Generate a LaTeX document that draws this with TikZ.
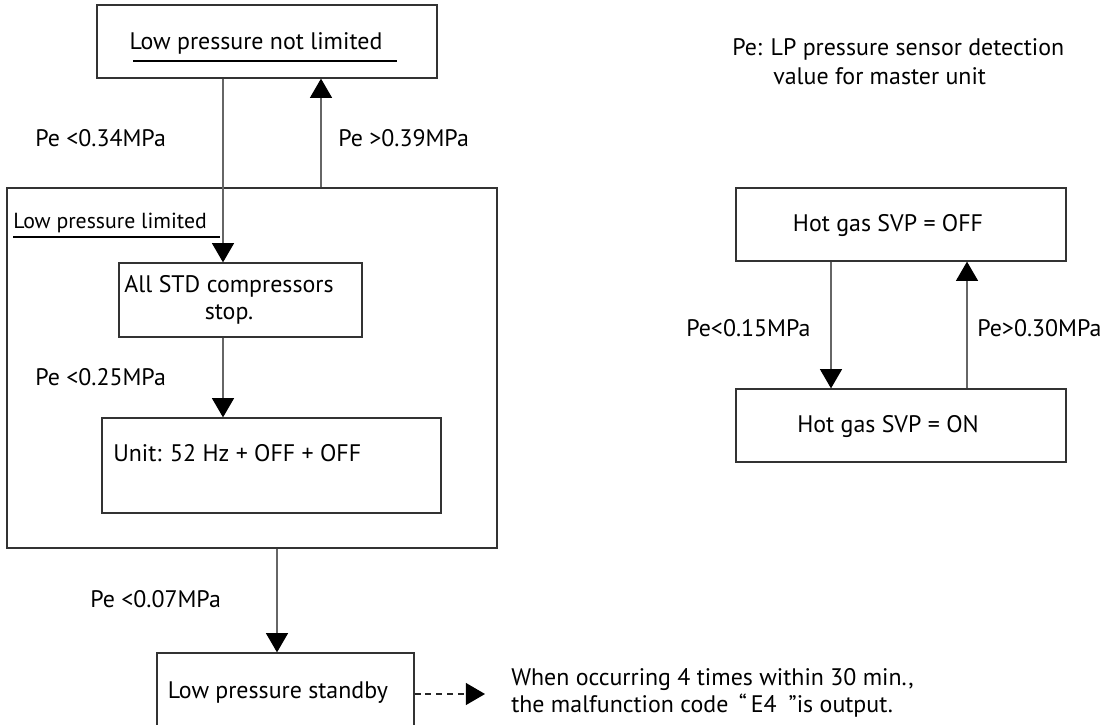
\documentclass[tikz,border=0pt]{standalone}
\usepackage{fontspec}
\setmainfont{PT Sans}
\usetikzlibrary{positioning, arrows.meta}

\begin{document}
\begin{tikzpicture}[
        x=0.025cm, y=-0.025cm,
        font=\fontsize{17}{19.5}\selectfont,
        box/.style={draw=black!80, line width=0.9pt, inner sep=0pt, align=center},
        txt/.style={inner sep=0pt, align=center},
        lbl/.style={anchor=west, inner sep=0pt, align=left},
        arrow/.style={-{Triangle[width=0.55cm, length=0.48cm, color=black]}, draw=black!60, line width=0.8pt},
        uline/.style={line width=1.8pt, black}
    ]
    \clip (0,0) rectangle (1118,724);

    % Left chain of states
    \node[box, minimum width=8.5cm, minimum height=1.825cm] (notlim) at (267,41.5) {};
    \node[box, minimum width=12.25cm, minimum height=9cm] (lim) at (252,368) {};
    \node[box, minimum width=6.075cm, minimum height=1.85cm] (stop) at (240.5,300) {};
    \node[box, minimum width=8.475cm, minimum height=2.375cm] (unit) at (271.5,465.5) {};
    \node[box, minimum width=6.425cm, minimum height=2.05cm] (standby) at (285.5,694) {};

    \node[txt] (notlimtxt) at (256,43) {Low pressure not limited};
    \node[lbl, font=\fontsize{15.5}{18}\selectfont] (limtxt) at (13,223) {Low pressure limited};
    \node[txt] (stoptxt) at (229,300) {All STD compressors\\ stop.};
    \node[lbl] (unittxt) at (113,453) {Unit: 52 Hz + OFF + OFF};
    \node[txt] (standbytxt) at (278,693) {Low pressure standby};

    % underlined titles
    \draw[uline] (133,61) -- (397,61);
    \draw[uline] (13,237) -- (220,237);

    % Hot gas states
    \node[box, minimum width=8.25cm, minimum height=1.825cm] (hgoff) at (901,224.5) {};
    \node[box, minimum width=8.25cm, minimum height=1.825cm] (hgon) at (901,425.5) {};
    \node[txt] (hgofftxt) at (888,226) {Hot gas SVP = OFF};
    \node[txt] (hgontxt) at (888,427) {Hot gas SVP = ON};

    % Conditions
    \node[lbl] (c034) at (35,138) {Pe <0.34MPa};
    \node[lbl] (c039) at (338,138) {Pe >0.39MPa};
    \node[lbl] (c025) at (35,377) {Pe <0.25MPa};
    \node[lbl] (c007) at (90,599) {Pe <0.07MPa};
    \node[lbl] (c015) at (686,328) {Pe<0.15MPa};
    \node[lbl] (c030) at (977,328) {Pe>0.30MPa};

    \node[lbl] (pe) at (732,49) {Pe: LP pressure sensor detection};
    \node[lbl] (pe2) at (773,76) {value for master unit};
    \node[lbl] (note) at (511,693) {When occurring 4 times within 30 min.,\\the malfunction code \,\char"201C\,E4\enspace\char"201D is output.};

    % Arrows
    \coordinate (xdn) at (223,0);
    \coordinate (xup) at (321,0);
    \coordinate (xsb) at (277,0);
    \coordinate (xoff) at (831,0);
    \coordinate (xon) at (967,0);
    \coordinate (noteend) at (485,694);

    \draw[arrow] (notlim.south -| xdn) -- (stop.north -| xdn);
    \draw[arrow] (lim.north -| xup) -- (notlim.south -| xup);
    \draw[arrow] (stop.south -| xdn) -- (unit.north -| xdn);
    \draw[arrow] (lim.south -| xsb) -- (standby.north -| xsb);
    \draw[arrow, draw=black!85, line width=1pt, dash pattern=on 0.15cm off 0.12cm] (standby.east) -- (noteend);

    \draw[arrow] (hgoff.south -| xoff) -- (hgon.north -| xoff);
    \draw[arrow] (hgon.north -| xon) -- (hgoff.south -| xon);

\end{tikzpicture}
\end{document}
